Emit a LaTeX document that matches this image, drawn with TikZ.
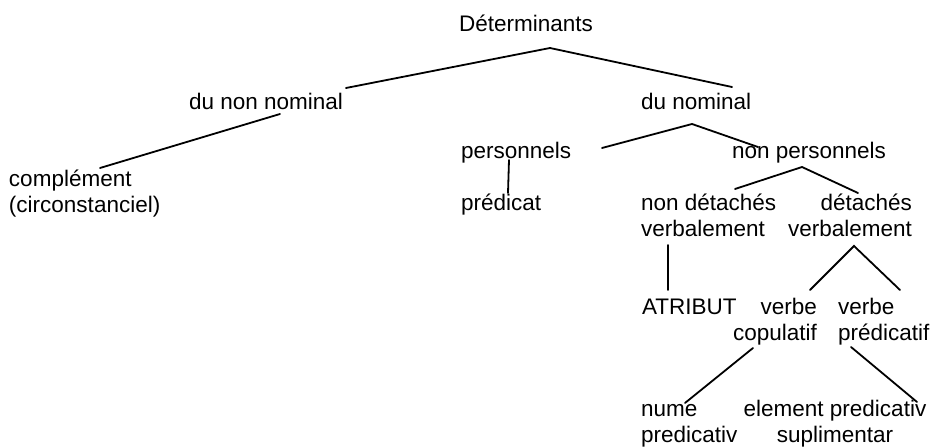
\documentclass[tikz,border=0pt]{standalone}
\usepackage{fontspec}
\setmainfont{Liberation Sans}
\usetikzlibrary{positioning}
\tikzset{
	lbl/.style={
			inner sep=0pt, outer sep=0pt,
			font=\fontsize{11.25pt}{13pt}\selectfont
		},
	branch/.style={
			black, line width=0.9pt, line cap=round
		}
}

\begin{document}
\begin{tikzpicture}[x=0.5pt, y=-0.5pt]
		\useasboundingbox (0,0) rectangle (932,448);

		% labels (base of a two-line label = its last line)
		\node [lbl, anchor=base]				(det)	at (526,32)		{Déterminants};
		\node [lbl, anchor=base west]			(dnn)	at (189,110)	{du non nominal};
		\node [lbl, anchor=base west]			(dn)	at (641,110)	{du nominal};
		\node [lbl, anchor=base west, align=left]	(compl)	at (9,213)		{complément\\(circonstanciel)};
		\node [lbl, anchor=base west]			(pers)	at (461,159)	{personnels};
		\node [lbl, anchor=base west]			(npers)	at (732,159)	{non personnels};
		\node [lbl, anchor=base west]			(pred)	at (461,211)	{prédicat};
		\node [lbl, anchor=base west, align=left]	(nondet)	at (641,237)	{non détachés\\verbalement};
		\node [lbl, anchor=base east, align=right]	(detv)	at (912,237)	{détachés\\verbalement};
		\node [lbl, anchor=base west]			(atr)	at (642,315)	{ATRIBUT};
		\node [lbl, anchor=base east, align=right]	(vcop)	at (817,341)	{verbe\\copulatif};
		\node [lbl, anchor=base west, align=left]	(vpred)	at (838,341)	{verbe\\prédicatif};
		\node [lbl, anchor=base west, align=left]	(nume)	at (641,443)	{nume\\predicativ};
		\node [lbl, anchor=base, align=center]	(elem)	at (835,443)	{element predicativ\\suplimentar};

		% branches
		\draw [branch]	([shift={(157,-22)}]dnn.base west) -- ([shift={(24,16)}]det.base) -- ([shift={(91,-23)}]dn.base west);
		\draw [branch]	([shift={(91,4)}]dnn.base west) -- ([shift={(91,-45)}]compl.base west);
		\draw [branch]	([shift={(141,-11)}]pers.base west) -- ([shift={(51,14)}]dn.base west) -- ([shift={(26,-12)}]npers.base west);
		\draw [branch]	([shift={(48,1)}]pers.base west) -- ([shift={(47,-18)}]pred.base west);
		\draw [branch]	([shift={(94,-48)}]nondet.base west) -- ([shift={(70,8)}]npers.base west) -- ([shift={(-54,-44)}]detv.base east);
		\draw [branch]	([shift={(27,8)}]nondet.base west) -- ([shift={(26,-25)}]atr.base west);
		\draw [branch]	([shift={(-7,-51)}]vcop.base east) -- ([shift={(-58,9)}]detv.base east) -- ([shift={(62,-51)}]vpred.base west);
		\draw [branch]	([shift={(-64,7)}]vcop.base east) -- ([shift={(44,-40)}]nume.base west);
		\draw [branch]	([shift={(13,6)}]vpred.base west) -- ([shift={(82,-41)}]elem.base);
	\end{tikzpicture}
\end{document}
